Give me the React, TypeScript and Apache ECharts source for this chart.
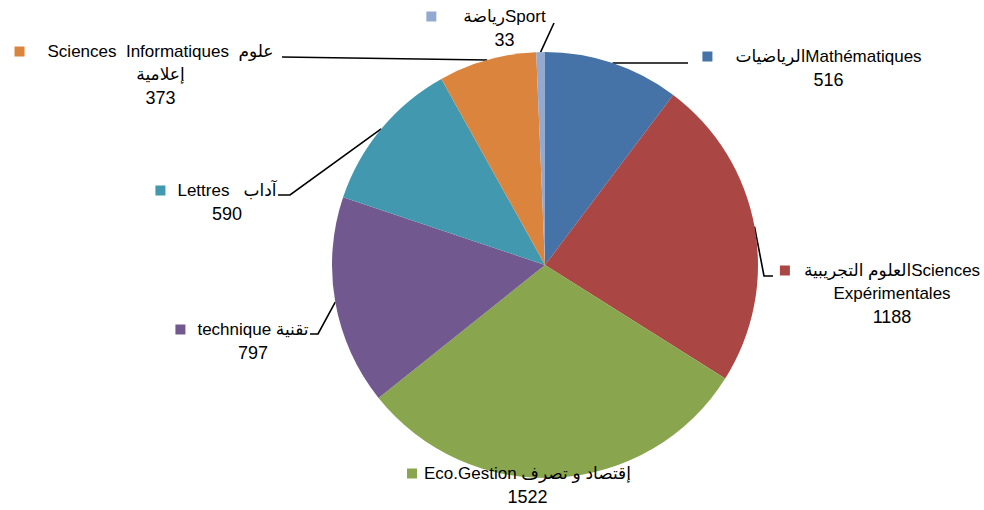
import React, { useEffect, useRef } from "react";
import * as echarts from "echarts";

// ---- data ----
const categories = [
  "Mathématiques",
  "Sciences Expérimentales",
  "Eco.Gestion",
  "technique",
  "Lettres",
  "Sciences Informatiques",
  "Sport",
];
const labelTexts: string[][] = [
  ["الرياضياتMathématiques"],
  ["العلوم التجريبيةSciences", "Expérimentales"],
  ["Eco.Gestion إقتصاد و تصرف"],
  ["technique تقنية"],
  ["Lettres   آداب"],
  ["Sciences  Informatiques  علوم", "إعلامية"],
  ["رياضةSport"],
];
const values = [516, 1188, 1522, 797, 590, 373, 33];
const colors = ["#4572A7", "#AA4643", "#89A54E", "#71588F", "#4198AF", "#DB843D", "#93A9CF"];

// ---- layout ----
const CENTER = [545, 265];
const RADIUS = 213;
const labelAnchors = [
  [812, 45],
  [880, 259],
  [519, 462],
  [242, 318],
  [216, 179],
  [144, 40],
  [486, 5],
];
const labelGaps = [23, 14, 7, 12, 12, 23, 27];
const lineEnds: (number[][] | null)[] = [
  [[688, 63]],
  [[764, 276], [773, 276]],
  null,
  [[318, 334], [310, 334]],
  [[290, 195], [278, 195]],
  [[282, 57]],
  [[554, 23]],
];

const FONT = "'Liberation Sans', 'DejaVu Sans', Arial, sans-serif";

function edgePoint(i: number): number[] {
  const total = values.reduce((a, b) => a + b, 0);
  let cum = 0;
  for (let k = 0; k < i; k++) cum += values[k];
  const theta = ((cum + values[i] / 2) / total) * Math.PI * 2;
  return [CENTER[0] + RADIUS * Math.sin(theta), CENTER[1] - RADIUS * Math.cos(theta)];
}

export default function App() {
  const ref = useRef<HTMLDivElement>(null);
  useEffect(() => {
    document.body.style.margin = "0";
    const chart = echarts.init(ref.current!, null, { renderer: "svg" });
    const data = categories.map((name, i) => {
      const gap = labelGaps[i];
      const rich: any = {
        sq: { width: 10, height: 10, backgroundColor: colors[i] },
        g: { width: gap, height: 10 },
        sp: { width: 10 + gap, height: 10 },
        t: { fontSize: 17, fontFamily: FONT, color: "#000", lineHeight: 23 },
        n: { fontSize: 18, fontFamily: FONT, color: "#000", lineHeight: 23 },
      };
      const lines = labelTexts[i];
      let txt = "{sq|}{g|}{t|" + lines[0] + "}";
      for (let k = 1; k < lines.length; k++) txt += "\n{sp|}{t|" + lines[k] + "}";
      txt += "\n{sp|}{n|" + values[i] + "}";
      return {
        name,
        value: values[i],
        itemStyle: { color: colors[i] },
        label: { formatter: txt, rich },
        labelLine: { show: lineEnds[i] != null },
      };
    });
    chart.setOption({
      animation: false,
      backgroundColor: "#fff",
      series: [
        {
          type: "pie",
          center: CENTER,
          radius: RADIUS,
          startAngle: 90,
          clockwise: true,
          avoidLabelOverlap: false,
          data,
          itemStyle: { borderWidth: 0 },
          emphasis: { disabled: true },
          label: {
            show: true,
            position: "outside",
            color: "#000",
            fontFamily: FONT,
            fontSize: 17,
            align: "center",
          },
          labelLine: {
            show: true,
            lineStyle: { color: "#000", width: 1.6 },
          },
          labelLayout: (params: any) => {
            const i = params.dataIndex;
            const a = labelAnchors[i];
            const ends = lineEnds[i];
            const res: any = { x: a[0], y: a[1], align: "center", verticalAlign: "top" };
            if (ends) res.labelLinePoints = [edgePoint(i), ...ends];
            return res;
          },
        },
      ],
    });
    return () => chart.dispose();
  }, []);
  return <div ref={ref} style={{ width: 984, height: 510 }} />;
}
